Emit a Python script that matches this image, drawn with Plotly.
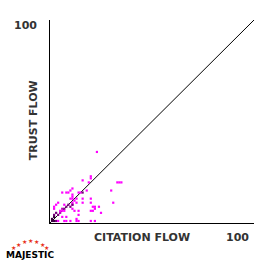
import plotly.graph_objects as go

# Citation Flow / Trust Flow pairs (0-100 scale)
cf = [23, 20, 20, 16, 19, 33, 34, 35, 11, 30, 18, 8, 9, 10, 11, 6, 14, 15, 16,
      11, 10, 11, 16, 20, 31, 13, 3, 4, 7, 11, 11, 13, 16, 20, 21, 22, 24, 22,
      25, 20, 21, 2, 2, 6, 7, 8, 10, 11, 11, 12, 14, 14, 5, 6, 7, 3, 4, 2, 2,
      6, 8, 13, 2, 3, 4, 7, 8, 10, 13, 14, 20, 22, 1, 1, 9, 12, 5]
tf = [35, 23, 22, 21, 20, 20, 20, 20, 17, 16, 16, 15, 15, 16, 14, 15, 15, 15, 15,
      13, 12, 12, 12, 12, 10, 12, 9, 10, 9, 9, 10, 10, 10, 10, 8, 8, 8, 7,
      5, 6, 6, 8, 7, 7, 7, 8, 8, 9, 7, 6, 6, 4, 6, 6, 6, 5, 4, 4, 3,
      3, 3, 2, 1, 1, 1, 1, 1, 1, 1, 1, 1, 1, 2, 1, 9, 11, 5]
count = [1, 1, 1, 1, 1, 1, 1, 1, 1, 1, 1, 1, 1, 1, 1, 1, 1, 1, 3,
         1, 1, 1, 1, 1, 1, 1, 1, 1, 1, 1, 1, 1, 1, 1, 1, 1, 1, 1,
         1, 1, 1, 1, 1, 2, 3, 3, 3, 3, 1, 1, 1, 1, 1, 1, 1, 3, 3, 3, 4,
         1, 1, 1, 4, 3, 1, 1, 1, 1, 1, 1, 1, 1, 4, 4, 3, 1, 2]

diag = [0, 100]
axis_max = 100
tick_label = "100"
x_title = "CITATION FLOW"
y_title = "TRUST FLOW"
brand = "MAJESTIC"

fig = go.Figure()
fig.add_trace(go.Scatter(x=diag, y=diag, mode="lines",
                         line=dict(color="black", width=1), hoverinfo="skip"))
fig.add_trace(go.Scatter(
    x=cf, y=tf, mode="markers",
    marker=dict(symbol="square", size=2.2, line=dict(width=0),
                color=count, cmin=1, cmax=4,
                colorscale=[[0, "#ff00ff"], [0.4, "#aa00aa"], [1, "#3a0040"]]),
))

ax = dict(range=[0, axis_max], showgrid=False, zeroline=False, showline=True,
          linecolor="black", linewidth=1, showticklabels=False, ticks="",
          fixedrange=True)
fig.update_layout(
    width=275, height=266, showlegend=False,
    margin=dict(l=50, r=21, t=20, b=43),
    paper_bgcolor="white", plot_bgcolor="white",
    xaxis=ax, yaxis=ax,
)

tfont = dict(family="DejaVu Sans", size=11, color="#333333", weight="bold")
ann = [
    dict(text=tick_label, x=-0.054, y=0.975, xanchor="right", yanchor="middle"),
    dict(text=y_title, x=-0.083, y=0.507, xanchor="center", yanchor="middle", textangle=-90),
    dict(text=x_title, x=0.451, y=-0.069, xanchor="center", yanchor="middle"),
    dict(text=tick_label, x=0.917, y=-0.069, xanchor="center", yanchor="middle"),
]
for a in ann:
    fig.add_annotation(xref="paper", yref="paper", showarrow=False, font=tfont, **a)

fig.add_annotation(xref="paper", yref="paper", showarrow=False, text=brand,
                   x=-0.098, y=-0.158, xanchor="center", yanchor="middle",
                   font=dict(family="DejaVu Sans", size=9, color="black", weight="bold"))

# logo star arc (pixel positions converted to paper coords)
star_px = [(13, 247), (18, 244), (24, 241.5), (30, 240.5), (36, 241.5), (42, 244), (46, 247)]
for sx, sy in star_px:
    fig.add_annotation(xref="paper", yref="paper", showarrow=False, text="★",
                       x=(sx - 50) / 204, y=(223 - sy) / 203,
                       xanchor="center", yanchor="middle",
                       font=dict(family="DejaVu Sans", size=6, color="#e8331c"))

fig.write_html("out.html")
